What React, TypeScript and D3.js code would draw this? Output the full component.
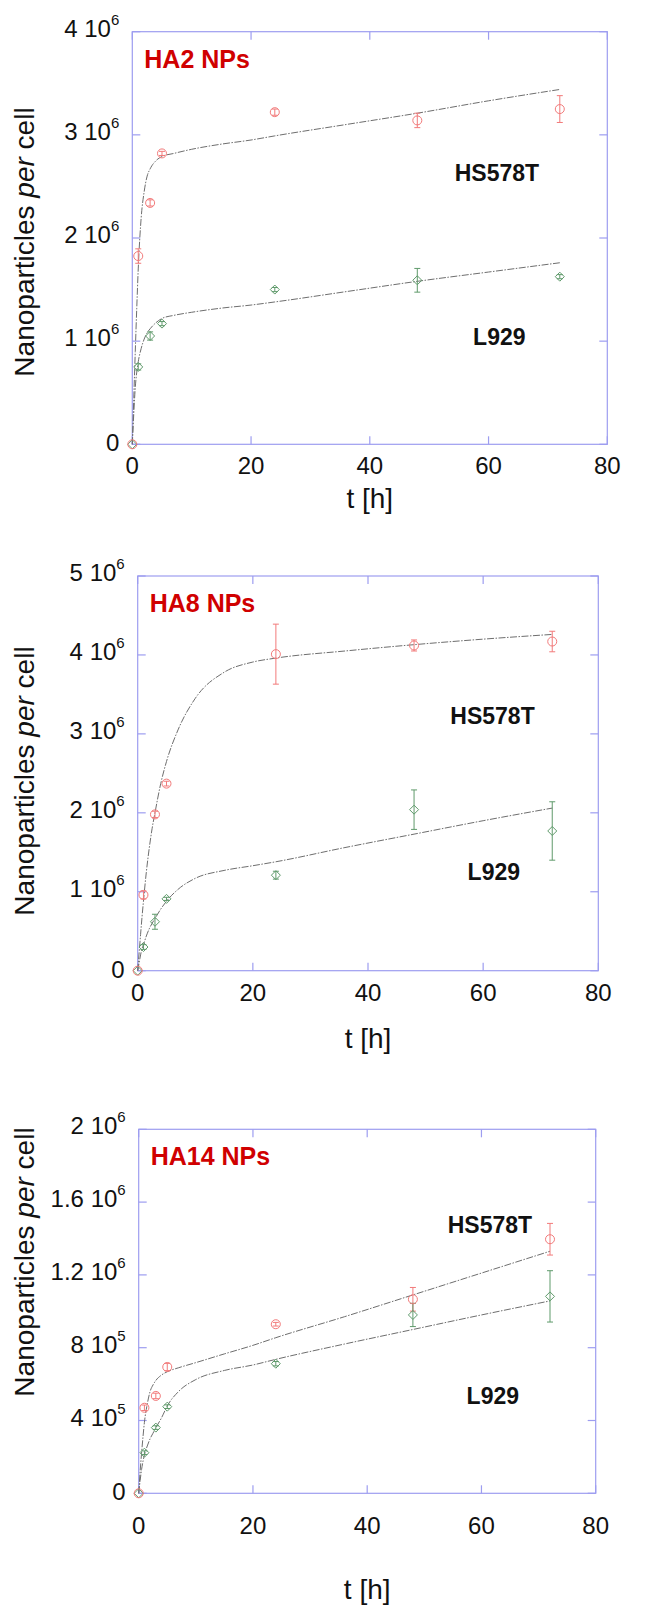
import React from 'react';
import * as d3 from 'd3';

// ---------- data ----------
const TIMES = [0, 1, 3, 5, 24, 48, 72];
const X_TICKS = [0, 20, 40, 60, 80];

// HA2 NPs
const HA2_HS = [0, 1.825e6, 2.34e6, 2.82e6, 3.22e6, 3.14e6, 3.25e6];
const HA2_HS_ERR = [0, 0.07e6, 0.03e6, 0.02e6, 0.03e6, 0.07e6, 0.13e6];
const HA2_L = [0, 0.75e6, 1.05e6, 1.17e6, 1.5e6, 1.59e6, 1.625e6];
const HA2_L_ERR = [0, 0.03e6, 0.04e6, 0.02e6, 0.02e6, 0.115e6, 0.02e6];
const HA2_Y_TICKS = [0, 1e6, 2e6, 3e6, 4e6];

// HA8 NPs
const HA8_HS = [0, 0.96e6, 1.98e6, 2.37e6, 4.01e6, 4.12e6, 4.17e6];
const HA8_HS_ERR = [0, 0.05e6, 0.04e6, 0.03e6, 0.38e6, 0.07e6, 0.13e6];
const HA8_L = [0, 0.3e6, 0.62e6, 0.91e6, 1.21e6, 2.04e6, 1.77e6];
const HA8_L_ERR = [0, 0.03e6, 0.095e6, 0.02e6, 0.05e6, 0.25e6, 0.37e6];
const HA8_Y_TICKS = [0, 1e6, 2e6, 3e6, 4e6, 5e6];

// HA14 NPs
const HA14_HS = [0, 4.7e5, 5.35e5, 6.94e5, 9.29e5, 10.66e5, 13.96e5];
const HA14_HS_ERR = [0, 0.15e5, 0.15e5, 0.2e5, 0.1e5, 0.65e5, 0.87e5];
const HA14_L = [0, 2.23e5, 3.61e5, 4.76e5, 7.12e5, 9.8e5, 10.82e5];
const HA14_L_ERR = [0, 0.1e5, 0.1e5, 0.1e5, 0.12e5, 0.64e5, 1.41e5];
const HA14_Y_TICKS = [0, 4e5, 8e5, 1.2e6, 1.6e6, 2e6];

// fitted curves at these times
const FIT_T = [0, 0.25, 0.5, 0.75, 1, 1.5, 2, 2.5, 3, 4, 5, 7, 10, 15, 20, 24, 36, 48, 60, 72];
const HA2_HS_FIT = [0, 0.45e6, 0.9e6, 1.32e6, 1.7e6, 2.2e6, 2.45e6, 2.6e6, 2.67e6, 2.75e6, 2.79e6, 2.82e6, 2.86e6, 2.91e6, 2.95e6, 2.99e6, 3.1e6, 3.21e6, 3.33e6, 3.44e6];
const HA2_L_FIT = [0, 0.3e6, 0.55e6, 0.7e6, 0.8e6, 0.93e6, 1.02e6, 1.08e6, 1.12e6, 1.18e6, 1.22e6, 1.25e6, 1.28e6, 1.32e6, 1.35e6, 1.38e6, 1.48e6, 1.58e6, 1.67e6, 1.76e6];
const HA8_HS_FIT = [0, 0.23e6, 0.46e6, 0.68e6, 0.88e6, 1.25e6, 1.55e6, 1.8e6, 2.0e6, 2.37e6, 2.65e6, 3.05e6, 3.45e6, 3.78e6, 3.91e6, 3.96e6, 4.05e6, 4.13e6, 4.2e6, 4.26e6];
const HA8_L_FIT = [0, 0.1e6, 0.2e6, 0.28e6, 0.33e6, 0.44e6, 0.53e6, 0.6e6, 0.66e6, 0.78e6, 0.88e6, 1.03e6, 1.17e6, 1.27e6, 1.33e6, 1.38e6, 1.56e6, 1.73e6, 1.9e6, 2.06e6];
const HA14_HS_FIT = [0, 1.2e5, 2.2e5, 3.1e5, 3.9e5, 4.9e5, 5.6e5, 5.95e5, 6.2e5, 6.5e5, 6.68e5, 6.9e5, 7.18e5, 7.66e5, 8.13e5, 8.55e5, 9.7e5, 10.9e5, 12.1e5, 13.3e5];
const HA14_L_FIT = [0, 0.7e5, 1.3e5, 1.75e5, 2.1e5, 2.6e5, 3.0e5, 3.3e5, 3.6e5, 4.15e5, 4.8e5, 5.6e5, 6.25e5, 6.75e5, 7.05e5, 7.36e5, 8.2e5, 9.0e5, 9.8e5, 10.57e5];

const TITLES = ['HA2 NPs', 'HA8 NPs', 'HA14 NPs'];
const CELL_LINES = ['HS578T', 'L929'];

// ---------- style / layout ----------
const W = 653;
const H = 1611;
const FONT = '"Liberation Sans", Arial, Helvetica, sans-serif';
const AXIS_COLOR = '#9d9df0';
const RED = '#f27a7a';
const GREEN = '#5f9a6b';
const TITLE_RED = '#d00000';
const FIT_COLOR = '#6e6e6e';

const PANELS = [
  {
    box: { left: 132.3, right: 607.3, top: 31.7, bottom: 444.3 },
    yMax: 4e6, yTicks: HA2_Y_TICKS, title: TITLES[0],
    hs: HA2_HS, hsErr: HA2_HS_ERR, l: HA2_L, lErr: HA2_L_ERR,
    hsFit: HA2_HS_FIT, lFit: HA2_L_FIT,
    hsLabel: [54.3, 2.55e6], lLabel: [57.4, 0.96e6], yLabelY: 242,
    xTickDy: 30, xLabelDy: 64,
  },
  {
    box: { left: 137.7, right: 598.3, top: 576, bottom: 970.7 },
    yMax: 5e6, yTicks: HA8_Y_TICKS, title: TITLES[1],
    hs: HA8_HS, hsErr: HA8_HS_ERR, l: HA8_L, lErr: HA8_L_ERR,
    hsFit: HA8_HS_FIT, lFit: HA8_L_FIT,
    hsLabel: [54.3, 3.13e6], lLabel: [57.3, 1.15e6], yLabelY: 781,
    xTickDy: 30, xLabelDy: 77,
  },
  {
    box: { left: 138.7, right: 595.7, top: 1129.3, bottom: 1493.3 },
    yMax: 2e6, yTicks: HA14_Y_TICKS, title: TITLES[2],
    hs: HA14_HS, hsErr: HA14_HS_ERR, l: HA14_L, lErr: HA14_L_ERR,
    hsFit: HA14_HS_FIT, lFit: HA14_L_FIT,
    hsLabel: [54.1, 1.43e6], lLabel: [57.4, 0.49e6], yLabelY: 1262,
    xTickDy: 41, xLabelDy: 106,
  },
];

function sciParts(v: number): { m: string; e: string | null } {
  if (v === 0) return { m: '0', e: null };
  const e = Math.floor(Math.log10(v) + 1e-9);
  const m = Math.round((v / Math.pow(10, e)) * 100) / 100;
  return { m: String(m), e: String(e) };
}

function Panel({ p }: { p: any }) {
  const { left, right, top, bottom } = p.box;
  const x = d3.scaleLinear().domain([0, 80]).range([left, right]);
  const y = d3.scaleLinear().domain([0, p.yMax]).range([bottom, top]);
  const tickLen = 8;
  const line = d3
    .line<number>()
    .x((_, i) => x(FIT_T[i]))
    .y((d) => y(d))
    .curve(d3.curveMonotoneX);
  const diamond = (cx: number, cy: number, r: number) =>
    `M${cx},${cy - r}L${cx + r},${cy}L${cx},${cy + r}L${cx - r},${cy}Z`;

  const errBars = (vals: number[], errs: number[], color: string, key: string) =>
    TIMES.map((t, i) =>
      errs[i] > 0 ? (
        <g key={key + i} stroke={color} strokeWidth={1}>
          <line x1={x(t)} x2={x(t)} y1={y(vals[i] - errs[i])} y2={y(vals[i] + errs[i])} />
          <line x1={x(t) - 3} x2={x(t) + 3} y1={y(vals[i] - errs[i])} y2={y(vals[i] - errs[i])} />
          <line x1={x(t) - 3} x2={x(t) + 3} y1={y(vals[i] + errs[i])} y2={y(vals[i] + errs[i])} />
        </g>
      ) : null
    );

  const midX = (left + right) / 2;

  return (
    <g>
      {/* frame */}
      <rect x={left} y={top} width={right - left} height={bottom - top} fill="none" stroke={AXIS_COLOR} strokeWidth={1.2} />
      {/* x ticks */}
      {X_TICKS.map((t) => (
        <g key={'xt' + t}>
          <line x1={x(t)} x2={x(t)} y1={bottom} y2={bottom - tickLen} stroke={AXIS_COLOR} strokeWidth={1.2} />
          <line x1={x(t)} x2={x(t)} y1={top} y2={top + tickLen} stroke={AXIS_COLOR} strokeWidth={1.2} />
          <text x={x(t)} y={bottom + p.xTickDy} textAnchor="middle" fontSize={24} fontFamily={FONT} fill="#111">
            {t}
          </text>
        </g>
      ))}
      {/* y ticks */}
      {p.yTicks.map((v: number) => {
        const s = sciParts(v);
        return (
          <g key={'yt' + v}>
            <line x1={left} x2={left + tickLen} y1={y(v)} y2={y(v)} stroke={AXIS_COLOR} strokeWidth={1.2} />
            <line x1={right} x2={right - tickLen} y1={y(v)} y2={y(v)} stroke={AXIS_COLOR} strokeWidth={1.2} />
            <text x={left - 13} y={y(v) + (s.e ? 5 : 7)} textAnchor="end" fontSize={24} fontFamily={FONT} fill="#111">
              {s.m}
              {s.e ? ' 10' : ''}
              {s.e ? (
                <tspan fontSize={15} dy={-12}>
                  {s.e}
                </tspan>
              ) : null}
            </text>
          </g>
        );
      })}
      {/* fitted curves */}
      <path d={line(p.hsFit) || ''} fill="none" stroke={FIT_COLOR} strokeWidth={1} strokeDasharray="7,1.5,1.5,1.5" />
      <path d={line(p.lFit) || ''} fill="none" stroke={FIT_COLOR} strokeWidth={1} strokeDasharray="7,1.5,1.5,1.5" />
      {/* error bars */}
      {errBars(p.hs, p.hsErr, RED, 'eh')}
      {errBars(p.l, p.lErr, GREEN, 'el')}
      {/* markers */}
      {TIMES.map((t, i) => (
        <path key={'ld' + i} d={diamond(x(t), y(p.l[i]), 4.5)} fill="none" stroke={GREEN} strokeWidth={1} />
      ))}
      {TIMES.map((t, i) => (
        <circle key={'hc' + i} cx={x(t)} cy={y(p.hs[i])} r={4.5} fill="none" stroke={RED} strokeWidth={1} />
      ))}
      {/* labels */}
      <text x={left + 12} y={top + 36} fontSize={25} fontWeight="bold" fontFamily={FONT} fill={TITLE_RED}>
        {p.title}
      </text>
      <text x={x(p.hsLabel[0])} y={y(p.hsLabel[1])} fontSize={23} fontWeight="bold" fontFamily={FONT} fill="#111">
        {CELL_LINES[0]}
      </text>
      <text x={x(p.lLabel[0])} y={y(p.lLabel[1])} fontSize={23} fontWeight="bold" fontFamily={FONT} fill="#111">
        {CELL_LINES[1]}
      </text>
      <text x={midX} y={bottom + p.xLabelDy} textAnchor="middle" fontSize={28} fontFamily={FONT} fill="#111">
        t [h]
      </text>
      <text
        transform={`translate(34,${p.yLabelY}) rotate(-90)`}
        textAnchor="middle"
        fontSize={28}
        fontFamily={FONT}
        fill="#111"
      >
        Nanoparticles <tspan fontStyle="italic">per</tspan> cell
      </text>
    </g>
  );
}

export default function App() {
  return (
    <svg
      width={W}
      height={H}
      viewBox={`0 0 ${W} ${H}`}
      style={{ position: 'absolute', left: 0, top: 0, display: 'block', background: '#fff' }}
    >
      <rect x={0} y={0} width={W} height={H} fill="#fff" />
      {PANELS.map((p, i) => (
        <Panel key={i} p={p} />
      ))}
    </svg>
  );
}
